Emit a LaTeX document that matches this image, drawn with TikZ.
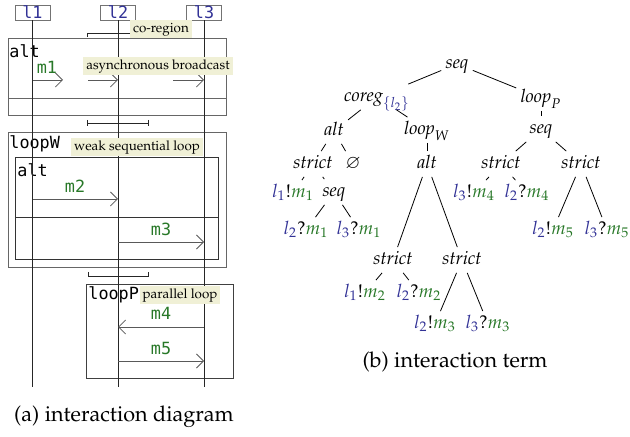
\documentclass[tikz,border=0pt]{standalone}
\usepackage[no-math]{fontspec}
\newfontfamily\codefont{DejaVu Sans Mono}
\usepackage[T1]{fontenc}
\usepackage{mathpazo}
\usepackage{amssymb}
\usepackage{tikz}
\usetikzlibrary{positioning,shapes,arrows.meta,calc}

\definecolor{lifeblue}{RGB}{50,50,150}
\definecolor{msggreen}{RGB}{40,120,40}
\definecolor{notefill}{RGB}{240,240,214}

\newcommand{\evt}[3]{{\color{lifeblue}l_{#1}}#2{\color{msggreen}m_{#3}}}

\tikzset{
  mono/.style={font=\codefont\fontsize{8.4}{10}\selectfont},
  life/.style={mono, text=lifeblue, draw=black!55, minimum width=17.5pt,
    minimum height=7.5pt, inner sep=0pt},
  frag/.style={draw=black!60},
  fraglabel/.style={mono, anchor=base west, inner sep=0pt},
  msg/.style={draw=black!65, -{Straight Barb[length=3.5pt,width=7pt]}},
  msglabel/.style={mono, text=msggreen, anchor=base, inner sep=0pt},
  note/.style={fill=notefill, inner sep=1.5pt, font=\fontsize{6.7}{8}\selectfont,
    text height=4.6pt, text depth=1.4pt},
  term/.style={font=\fontsize{9.2}{11}\selectfont, inner sep=2pt,
    text height=6.5pt, text depth=2pt},
  capt/.style={font=\fontsize{10.8}{13}\selectfont}
}

\begin{document}
\begin{tikzpicture}[x=0.5pt,y=-0.5pt]
  \useasboundingbox (0,0) rectangle (630,437);

  % fragments
  \draw[frag] (8,38) rectangle (226,115);
  \draw[frag] (8,98) -- (226,98);
  \node[fraglabel] at (9,58) {alt};
  \draw[frag] (8,132) rectangle (226,267);
  \node[fraglabel] at (9,149) {loopW};
  \draw[frag, draw=black!80] (15,157) rectangle (218,259);
  \draw[frag, draw=black!80] (15,217) -- (218,217);
  \node[fraglabel] at (17,177) {alt};
  \draw[frag, draw=black!75] (86,284) rectangle (233,378);
  \node[fraglabel] at (88,300) {loopP};

  % lifelines
  \node[life] (l1) at (32.5,12.5) {l1};
  \node[life] (l2) at (118,12.5) {l2};
  \node[life] (l3) at (204,12.5) {l3};
  \coordinate (end1) at (32.5,387);
  \coordinate (end2) at (118,387);
  \coordinate (end3) at (204,387);
  \draw[black!85] (l1) -- (end1);
  \draw[black!85] (l2) -- (end2);
  \draw[black!85] (l3) -- (end3);

  % co-region marks
  \draw[black!85] (87,37) -- (87,33) -- (131,33);
  \draw[black!85] (87,123) -- (148,123);
  \draw[black!85] (87,120) -- (87,126);
  \draw[black!85] (148,120) -- (148,126);
  \draw[black!85] (88,272) -- (88,276) -- (148,276) -- (148,272);

  % messages
  \draw[msg] (32.5,80) -- (63,80);
  \draw[msg] (88,80) -- (118,80);
  \draw[msg] (173,80) -- (204,80);
  \node[msglabel] at (47,74) {m1};
  \draw[msg] (32.5,199) -- (118,199);
  \node[msglabel] at (75,193) {m2};
  \draw[msg] (118,242) -- (204,242);
  \node[msglabel] at (161,236) {m3};
  \draw[msg] (204,327) -- (118,327);
  \node[msglabel] at (161,320) {m4};
  \draw[msg] (118,361) -- (204,361);
  \node[msglabel] at (161,354) {m5};

  % notes
  \node[note] (coregnote) at (161,29) {co-region};
  \node[note] (bcastnote) at (158,66) {asynchronous broadcast};
  \node[note] (weaknote) at (137,147) {weak sequential loop};
  \node[note] (parnote) at (180,295) {parallel loop};

  \node[capt] (capa) at (124,417) {(a) interaction diagram};

  % term
  \node[term] (tSeq) at (457,64) {$\mathit{seq}$};
  \node[term] (tCoreg) at (377,97) {$\mathit{coreg}_{\color{lifeblue}\{l_2\}}$};
  \node[term] (tLoopP) at (541,98) {$\mathit{loop}_P$};
  \node[term] (tAlt) at (334,131) {$\mathit{alt}$};
  \node[term] (tLoopW) at (427,130) {$\mathit{loop}_W$};
  \node[term] (tSeqP) at (541,129) {$\mathit{seq}$};
  \node[term] (tStrictA) at (313,164) {$\mathit{strict}$};
  \node[term] (tEmpty) at (353,164) {$\varnothing$};
  \node[term] (tAltW) at (427,164) {$\mathit{alt}$};
  \node[term] (tStrictP) at (501,164) {$\mathit{strict}$};
  \node[term] (tStrictQ) at (581,164) {$\mathit{strict}$};
  \node[term] (tSend1) at (293,193) {$\evt{1}{!}{1}$};
  \node[term] (tSeqB) at (334,192) {$\mathit{seq}$};
  \node[term] (tSend4) at (474,193) {$\evt{3}{!}{4}$};
  \node[term] (tRecv4) at (527,193) {$\evt{2}{?}{4}$};
  \node[term] (tRecv1a) at (306,230) {$\evt{2}{?}{1}$};
  \node[term] (tRecv1b) at (359,230) {$\evt{3}{?}{1}$};
  \node[term] (tSend5) at (553,230) {$\evt{2}{!}{5}$};
  \node[term] (tRecv5) at (607,230) {$\evt{3}{?}{5}$};
  \node[term] (tStrictB) at (393,260) {$\mathit{strict}$};
  \node[term] (tStrictC) at (462,260) {$\mathit{strict}$};
  \node[term] (tSend2) at (365,293) {$\evt{1}{!}{2}$};
  \node[term] (tRecv2) at (419,293) {$\evt{2}{?}{2}$};
  \node[term] (tSend3) at (435,324) {$\evt{2}{!}{3}$};
  \node[term] (tRecv3) at (488,324) {$\evt{3}{?}{3}$};

  \draw (tSeq) -- (tCoreg);
  \draw (tSeq) -- (tLoopP);
  \draw (tCoreg) -- (tAlt);
  \draw (tCoreg) -- (tLoopW);
  \draw (tLoopP) -- (tSeqP);
  \draw (tAlt) -- (tStrictA);
  \draw (tAlt) -- (tEmpty);
  \draw (tLoopW) -- (tAltW);
  \draw (tSeqP) -- (tStrictP);
  \draw (tSeqP) -- (tStrictQ);
  \draw (tStrictA) -- (tSend1);
  \draw (tStrictA) -- (tSeqB);
  \draw (tSeqB) -- (tRecv1a);
  \draw (tSeqB) -- (tRecv1b);
  \draw (tStrictP) -- (tSend4);
  \draw (tStrictP) -- (tRecv4);
  \draw (tStrictQ) -- (tSend5);
  \draw (tStrictQ) -- (tRecv5);
  \draw (tAltW) -- (tStrictB);
  \draw (tAltW) -- (tStrictC);
  \draw (tStrictB) -- (tSend2);
  \draw (tStrictB) -- (tRecv2);
  \draw (tStrictC) -- (tSend3);
  \draw (tStrictC) -- (tRecv3);

  \node[capt] (capb) at (455,362) {(b) interaction term};
\end{tikzpicture}
\end{document}
